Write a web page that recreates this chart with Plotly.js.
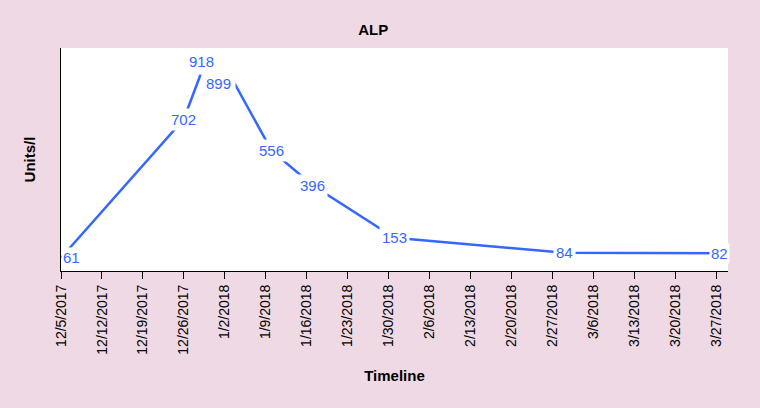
<!DOCTYPE html>
<html>
<head>
<meta charset="utf-8">
<script src="https://cdn.plot.ly/plotly-3.0.1.min.js"></script>
<style>html,body{margin:0;padding:0;background:#efd9e4;}#chart{width:760px;height:408px;}</style>
</head>
<body>
<div id="chart"></div>
<script>
// ---- data ----
var dates = ['2017-12-05', '2017-12-26', '2017-12-29', '2018-01-03', '2018-01-10', '2018-01-17', '2018-01-31', '2018-03-01', '2018-03-29'];
var alp = [61, 702, 918, 899, 556, 396, 153, 84, 82];
var tickLabels = ['12/5/2017', '12/12/2017', '12/19/2017', '12/26/2017', '1/2/2018', '1/9/2018', '1/16/2018', '1/23/2018', '1/30/2018', '2/6/2018', '2/13/2018', '2/20/2018', '2/27/2018', '3/6/2018', '3/13/2018', '3/20/2018', '3/27/2018'];

// ---- helpers / styles ----
function toIso(s) {
  var p = s.split('/');
  var m = ('0' + p[0]).slice(-2), d = ('0' + p[1]).slice(-2);
  return p[2] + '-' + m + '-' + d;
}
var tickVals = tickLabels.map(toIso);
var blue = '#3567ff';
var font = '"Liberation Sans", Arial, Helvetica, sans-serif';
// label offsets (px) and padding, keyed by index (labels kept inside the plot / apart)
var labelStyle = {
  0: {x: 10, y: 0, pad: 1},
  2: {x: 0, y: 11, pad: 4},
  3: {x: -12, y: -7, pad: 4},
  8: {x: -9, y: 0, pad: 1}
};

var annotations = alp.map(function (v, i) {
  var s = labelStyle[i] || {x: 0, y: 0, pad: 2};
  return {
    x: dates[i], y: v, xref: 'x', yref: 'y',
    text: String(v), showarrow: false,
    xshift: s.x, yshift: s.y,
    bgcolor: 'white', borderpad: s.pad,
    font: {family: font, size: 15, color: blue}
  };
});

var trace = {
  x: dates, y: alp, type: 'scatter', mode: 'lines',
  line: {color: blue, width: 2.5},
  cliponaxis: true,
  hoverinfo: 'skip'
};

var layout = {
  width: 760, height: 408,
  paper_bgcolor: '#efd9e4', plot_bgcolor: 'white',
  margin: {l: 61, r: 32, t: 48, b: 137},
  showlegend: false,
  font: {family: font, color: 'black'},
  title: {text: '<b>ALP</b>', x: 0.491, xanchor: 'center', y: 0.926, yanchor: 'middle',
          font: {family: font, size: 15, color: 'black'}},
  xaxis: {
    type: 'date', range: ['2017-12-05', '2018-03-29'],
    tickvals: tickVals, ticktext: tickLabels, tickangle: -90,
    tickfont: {family: font, size: 14, color: 'black'},
    ticks: 'outside', ticklen: 7, tickcolor: 'black', tickwidth: 1,
    showline: true, linecolor: 'black', linewidth: 1,
    showgrid: false, zeroline: false,
    title: {text: '<b>Timeline</b>', standoff: 16, font: {family: font, size: 15, color: 'black'}}
  },
  yaxis: {
    range: [0, 1030], showticklabels: false, ticks: '',
    showline: true, linecolor: 'black', linewidth: 1,
    showgrid: false, zeroline: false,
    title: {text: '<b>Units/l</b>', standoff: 20, font: {family: font, size: 15, color: 'black'}}
  },
  annotations: annotations
};

Plotly.newPlot('chart', [trace], layout, {displayModeBar: false, staticPlot: true});
</script>
</body>
</html>
